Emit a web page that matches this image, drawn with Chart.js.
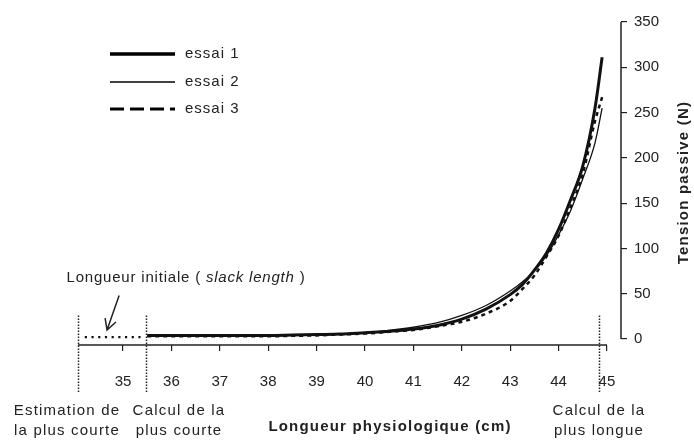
<!DOCTYPE html>
<html>
<head>
<meta charset="utf-8">
<script src="https://cdn.jsdelivr.net/npm/chart.js@4/dist/chart.umd.min.js"></script>
<style>
  html, body { margin: 0; padding: 0; background: #fff; }
</style>
</head>
<body>
<canvas id="chart" width="694" height="442"></canvas>
<script>
// longueur physiologique (cm) et tension passive (N) pour les trois essais
const longueurs = [35.5, 36, 36.5, 37, 37.5, 38, 38.5, 39, 39.5, 40, 40.5, 41, 41.5, 42, 42.5, 43, 43.25, 43.5, 43.75, 44, 44.25, 44.5, 44.75, 44.9];
const essai1 = [4, 4, 4, 4, 4, 4, 4.5, 5, 5.5, 7, 8.5, 11, 15, 22, 33, 49, 60, 76, 95, 121, 154, 191, 254, 311];
const essai2 = [3.5, 3.5, 3.5, 3.5, 3.5, 3.5, 4, 4.5, 5.5, 7, 9.5, 13, 18, 26, 37, 53, 63, 75, 92, 115, 142, 177, 216, 255];
const essai3 = [3, 3, 3, 3, 3, 3, 3.5, 4, 5, 6, 8, 10, 14, 19, 28, 42, 55, 70, 91, 114, 146, 182, 240, 267];

// longueur initiale (slack length), segment pointillé
const slackX = [34.21, 35.4];
const slackY = [2, 2];

const xTicks = [35, 36, 37, 38, 39, 40, 41, 42, 43, 44, 45];
const yTicks = [0, 50, 100, 150, 200, 250, 300, 350];

// repères verticaux : estimation / calcul de la plus courte, calcul de la plus longue
const reperes = [34.07, 35.47, 44.83];

const FONT = '"Liberation Sans", Arial, sans-serif';
const INK = '#222';

const pts = (xs, ys) => xs.map((v, i) => ({x: v, y: ys[i]}));

const courbe = (label, values, width, dash, legendDash) => ({
  label,
  data: pts(longueurs, values),
  borderColor: '#111',
  borderWidth: width,
  borderDash: dash,
  legendDash,
  pointRadius: 0,
  fill: false,
  cubicInterpolationMode: 'monotone'
});

function writeText(ctx, str, px, py, font, align = 'center', spacing = '1.2px') {
  ctx.font = font;
  ctx.letterSpacing = spacing;
  ctx.textAlign = align;
  ctx.textBaseline = 'middle';
  ctx.fillStyle = INK;
  ctx.fillText(str, px, py);
}

const decor = {
  id: 'decor',
  afterDatasetsDraw(chart) {
    const {ctx, chartArea} = chart;
    const x = chart.scales.x;
    const y = chart.scales.y;
    ctx.save();

    // axes
    ctx.strokeStyle = INK;
    ctx.lineWidth = 1.5;
    ctx.setLineDash([]);
    ctx.beginPath();
    ctx.moveTo(chartArea.left, chartArea.bottom);
    ctx.lineTo(x.getPixelForValue(45), chartArea.bottom);
    ctx.moveTo(chartArea.right, y.getPixelForValue(0));
    ctx.lineTo(chartArea.right, y.getPixelForValue(350));
    ctx.stroke();

    // repères verticaux pointillés
    ctx.lineWidth = 1.5;
    ctx.setLineDash([1.5, 1.5]);
    reperes.forEach(v => {
      const px = Math.round(x.getPixelForValue(v)) + 0.5;
      ctx.beginPath();
      ctx.moveTo(px, y.getPixelForValue(26));
      ctx.lineTo(px, chartArea.bottom + 48);
      ctx.stroke();
    });

    // flèche vers la longueur initiale
    ctx.setLineDash([]);
    ctx.lineWidth = 1.5;
    const ax0 = x.getPixelForValue(34.92), ay0 = y.getPixelForValue(48);
    const ax1 = x.getPixelForValue(34.67), ay1 = y.getPixelForValue(10);
    const ang = Math.atan2(ay1 - ay0, ax1 - ax0);
    ctx.beginPath();
    ctx.moveTo(ax0, ay0);
    ctx.lineTo(ax1, ay1);
    ctx.moveTo(ax1 - 12 * Math.cos(ang - 0.5), ay1 - 12 * Math.sin(ang - 0.5));
    ctx.lineTo(ax1, ay1);
    ctx.lineTo(ax1 - 12 * Math.cos(ang + 0.5), ay1 - 12 * Math.sin(ang + 0.5));
    ctx.stroke();

    // texte « Longueur initiale ( slack length ) »
    const parts = [
      ['Longueur initiale (', `15px ${FONT}`],
      [' slack length', `italic 15px ${FONT}`],
      [' )', `15px ${FONT}`]
    ];
    ctx.letterSpacing = '0.8px';
    let total = 0;
    parts.forEach(([s, f]) => { ctx.font = f; total += ctx.measureText(s).width; });
    let cx = 186 - total / 2;
    parts.forEach(([s, f]) => {
      writeText(ctx, s, cx, 278, f, 'left', '0.8px');
      cx += ctx.measureText(s).width;
    });

    // légendes sous l'axe
    const reg = `15px ${FONT}`;
    writeText(ctx, 'Estimation de', 67, 411, reg);
    writeText(ctx, 'la plus courte', 67, 431, reg);
    writeText(ctx, 'Calcul de la', 179, 411, reg);
    writeText(ctx, 'plus courte', 179, 431, reg);
    writeText(ctx, 'Calcul de la', 599, 411, reg);
    writeText(ctx, 'plus longue', 599, 431, reg);

    // titres des axes
    writeText(ctx, 'Longueur physiologique (cm)', 390, 427, `bold 15px ${FONT}`);
    ctx.save();
    ctx.translate(684, (y.getPixelForValue(0) + y.getPixelForValue(350)) / 2 + 2);
    ctx.rotate(-Math.PI / 2);
    writeText(ctx, 'Tension passive (N)', 0, 0, `bold 15px ${FONT}`);
    ctx.restore();

    // légende des essais
    const rows = [54, 82, 109];
    chart.data.datasets.filter(d => d.legendDash).forEach((d, i) => {
      ctx.strokeStyle = '#000';
      ctx.lineWidth = d.borderWidth + 0.3;
      ctx.setLineDash(d.legendDash);
      ctx.beginPath();
      ctx.moveTo(110, rows[i]);
      ctx.lineTo(175, rows[i]);
      ctx.stroke();
      writeText(ctx, d.label, 185, rows[i], `15px ${FONT}`, 'left', '1px');
    });

    ctx.restore();
  }
};

new Chart(document.getElementById('chart'), {
  type: 'line',
  data: {
    datasets: [
      courbe('essai 1', essai1, 3, [], []),
      courbe('essai 2', essai2, 1.3, [], []),
      courbe('essai 3', essai3, 2.5, [4, 4], [14, 6]),
      {
        label: 'slack',
        data: pts(slackX, slackY),
        borderColor: '#111',
        borderWidth: 2.2,
        borderDash: [2.2, 4.5],
        pointRadius: 0,
        fill: false
      }
    ]
  },
  options: {
    responsive: false,
    animation: false,
    devicePixelRatio: 1,
    layout: {padding: {left: 78, top: 22, right: 0, bottom: 0}},
    plugins: {legend: {display: false}, tooltip: {enabled: false}},
    scales: {
      x: {
        type: 'linear',
        min: 34.07,
        max: 45.29,
        afterBuildTicks: s => { s.ticks = xTicks.map(v => ({value: v})); },
        afterFit: s => { s.height = 97; },
        border: {display: false},
        grid: {display: true, drawOnChartArea: false, drawTicks: true, tickLength: 6, color: INK, lineWidth: 1.2},
        ticks: {
          padding: 22,
          color: INK,
          font: {family: FONT, size: 15},
          maxRotation: 0,
          autoSkip: false,
          callback: v => String(v)
        }
      },
      y: {
        type: 'linear',
        position: 'right',
        min: -6.6,
        max: 350,
        afterBuildTicks: s => { s.ticks = yTicks.map(v => ({value: v})); },
        afterFit: s => { s.width = 73; },
        border: {display: false},
        grid: {display: true, drawOnChartArea: false, drawTicks: true, tickLength: 6, color: INK, lineWidth: 1.2},
        ticks: {
          padding: 7,
          color: INK,
          font: {family: FONT, size: 15},
          callback: v => String(v)
        }
      }
    }
  },
  plugins: [decor]
});
</script>
</body>
</html>
